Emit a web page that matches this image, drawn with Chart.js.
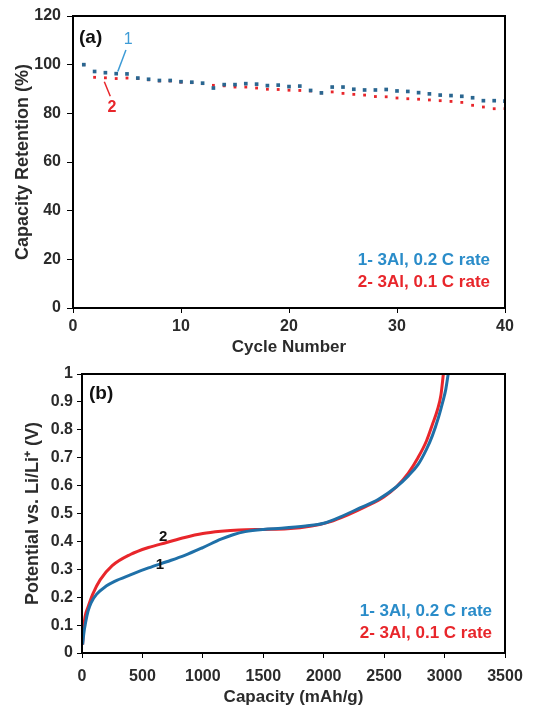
<!DOCTYPE html>
<html>
<head>
<meta charset="utf-8">
<script src="https://cdn.jsdelivr.net/npm/chart.js@4.4.1/dist/chart.umd.min.js"></script>
<style>
  html, body { margin: 0; padding: 0; background: #fff; }
  body { width: 542px; height: 708px; position: relative; overflow: hidden; }
  canvas { position: absolute; left: 0; }
  #cA { top: 0; }
  #cB { top: 355px; }
</style>
</head>
<body>
<canvas id="cA" width="542" height="358"></canvas>
<canvas id="cB" width="542" height="353"></canvas>
<script>
// ---------- Panel (a) data ----------
const cycles = [1,2,3,4,5,6,7,8,9,10,11,12,13,14,15,16,17,18,19,20,21,22,23,24,25,26,27,28,29,30,31,32,33,34,35,36,37,38,39,40];
const retention02C = [100,97.2,96.7,96.3,96.2,94.5,94,93.5,93.5,93,92.8,92.4,90.4,91.8,91.8,92.2,92,91.4,91.6,91,91.2,89.4,88.4,90.8,90.8,89.9,89.6,89.6,89.8,89.2,89,88.5,88,87.5,87.3,87,86.4,85.2,85.2,85];
const retention01C = [100,94.8,94.6,94.3,94.5,94.3,93.8,93.3,93.3,92.8,92.6,92.2,91.5,91.3,90.8,90.8,90.4,89.9,89.8,89.5,89.4,89.2,88.4,88.8,88.2,87.8,87.5,86.9,86.8,86.3,86,85.8,85.5,85.2,84.9,84.5,83.3,82.6,81.9,81.9];
const yTicksA = [0,20,40,60,80,100,120];
const xTicksA = [0,10,20,30,40];

// ---------- Panel (b) data ----------
const capacity02C = [5,15,30,50,75,120,200,270,400,550,700,850,1000,1150,1250,1350,1500,1650,1850,2000,2150,2300,2450,2600,2700,2780,2850,2900,2950,2985,3010,3030];
const potential02C = [0.03,0.07,0.11,0.15,0.18,0.21,0.24,0.257,0.28,0.305,0.327,0.35,0.378,0.408,0.424,0.435,0.443,0.447,0.455,0.465,0.49,0.52,0.55,0.595,0.635,0.675,0.73,0.78,0.845,0.9,0.945,1.0];
const capacity01C = [5,12,25,50,90,150,250,400,550,700,850,1000,1150,1300,1500,1700,1900,2050,2200,2350,2500,2600,2700,2780,2850,2900,2940,2970,2990];
const potential01C = [0.03,0.08,0.13,0.165,0.212,0.262,0.313,0.353,0.378,0.396,0.414,0.428,0.436,0.441,0.443,0.445,0.455,0.47,0.495,0.525,0.56,0.595,0.645,0.7,0.76,0.82,0.87,0.925,1.0];
const yTicksB = [0,0.1,0.2,0.3,0.4,0.5,0.6,0.7,0.8,0.9,1];
const xTicksB = [0,500,1000,1500,2000,2500,3000,3500];

const legendText = ['1- 3Al, 0.2 C rate', '2- 3Al, 0.1 C rate'];

const FONT = "'Liberation Sans', Arial, Helvetica, sans-serif";
const BLUE = '#1f70a8';
const BLUE_PT = '#2a6690';
const BLUE_TXT = '#2a8cc9';
const RED = '#e8262b';
const TXT = '#2b2b2b';

function fixedTicks(arr) {
  return function(scale) { scale.ticks = arr.map(v => ({ value: v })); };
}
function fmt(v) { return String(Math.round(v * 1000) / 1000); }

const framePlugin = {
  id: 'frame',
  afterDraw(chart) {
    const { ctx, chartArea: a } = chart;
    ctx.save();
    ctx.strokeStyle = '#000';
    ctx.lineWidth = 2;
    ctx.strokeRect(a.left, a.top, a.right - a.left, a.bottom - a.top);
    ctx.restore();
  }
};

function makeAnnot(cfg) {
  return {
    id: 'annot',
    afterDraw(chart) {
      const { ctx, chartArea: a, scales } = chart;
      const xs = scales.x, ys = scales.y;
      ctx.save();
      ctx.font = 'bold 19px ' + FONT;
      ctx.fillStyle = '#111';
      ctx.textAlign = 'left';
      ctx.textBaseline = 'middle';
      ctx.fillText(cfg.letter, a.left + cfg.letterDx, a.top + cfg.letterDy);
      cfg.labels.forEach(l => {
        if (l.line) {
          ctx.strokeStyle = l.color;
          ctx.lineWidth = 1.5;
          ctx.beginPath();
          ctx.moveTo(xs.getPixelForValue(l.line[0]), ys.getPixelForValue(l.line[1]));
          ctx.lineTo(xs.getPixelForValue(l.line[2]), ys.getPixelForValue(l.line[3]));
          ctx.stroke();
        }
        ctx.font = l.font;
        ctx.fillStyle = l.color;
        ctx.textAlign = 'center';
        ctx.fillText(l.text, xs.getPixelForValue(l.x), ys.getPixelForValue(l.y));
      });
      ctx.font = 'bold 17px ' + FONT;
      ctx.textAlign = 'right';
      ctx.fillStyle = BLUE_TXT;
      ctx.fillText(legendText[0], a.right - cfg.legDx, a.bottom - cfg.legDy1);
      ctx.fillStyle = RED;
      ctx.fillText(legendText[1], a.right - cfg.legDx, a.bottom - cfg.legDy2);
      ctx.restore();
    }
  };
}

function axisCommon(ticksArr, min, max, tickLen, pad, titleText, titleSize, titlePad, yWidth, xHeight) {
  return {
    type: 'linear', min: min, max: max,
    afterBuildTicks: fixedTicks(ticksArr),
    afterFit: function(s) { if (yWidth) s.width = yWidth; if (xHeight) s.height = xHeight; },
    grid: { display: true, drawOnChartArea: false, drawTicks: true, tickLength: tickLen, color: '#000', lineWidth: 1 },
    border: { display: true, color: '#000', width: 2 },
    ticks: { color: TXT, font: { family: FONT, size: 16, weight: 'bold' }, padding: pad, callback: v => fmt(v), autoSkip: false, maxRotation: 0 },
    title: { display: true, text: titleText, color: TXT, font: { family: FONT, size: titleSize, weight: 'bold' }, padding: titlePad }
  };
}

// ---------- Chart A ----------
new Chart(document.getElementById('cA'), {
  type: 'scatter',
  data: {
    datasets: [
      { label: legendText[0], data: cycles.map((c, i) => ({ x: c, y: retention02C[i] })),
        pointStyle: 'rect', pointRadius: 2.6, backgroundColor: BLUE_PT, borderColor: BLUE_PT, borderWidth: 0, order: 0 },
      { label: legendText[1], data: cycles.map((c, i) => ({ x: c, y: retention01C[i] })),
        pointStyle: 'rect', pointRadius: 2.0, backgroundColor: RED, borderColor: RED, borderWidth: 0, order: 1 }
    ]
  },
  options: {
    responsive: false, animation: false, devicePixelRatio: 1,
    layout: { padding: { left: 0, right: 37, top: 16, bottom: 0 } },
    plugins: { legend: { display: false }, tooltip: { enabled: false } },
    scales: {
      x: axisCommon(xTicksA, 0, 40, 5, 4, 'Cycle Number', 17, { top: 0, bottom: 0 }, 0, 50),
      y: axisCommon(yTicksA, 0, 120, 6, 6, 'Capacity Retention (%)', 18, { top: 12, bottom: 0 }, 73, 0)
    }
  },
  plugins: [framePlugin, makeAnnot({
    letter: '(a)', letterDx: 6, letterDy: 22,
    labels: [
      { text: '1', x: 5.1, y: 110.5, color: '#3d9bd6', font: '16px ' + FONT, line: [4.9, 106, 4.15, 97.2] },
      { text: '2', x: 3.6, y: 82.5, color: RED, font: 'bold 16px ' + FONT, line: [2.9, 93, 3.45, 87] }
    ],
    legDx: 15, legDy1: 48, legDy2: 26
  })]
});

// ---------- Chart B ----------
new Chart(document.getElementById('cB'), {
  type: 'scatter',
  data: {
    datasets: [
      { label: legendText[1], data: capacity01C.map((c, i) => ({ x: c, y: potential01C[i] })),
        showLine: true, borderColor: RED, borderWidth: 3, pointRadius: 0, cubicInterpolationMode: 'monotone', order: 1 },
      { label: legendText[0], data: capacity02C.map((c, i) => ({ x: c, y: potential02C[i] })),
        showLine: true, borderColor: BLUE, borderWidth: 3, pointRadius: 0, cubicInterpolationMode: 'monotone', order: 0 }
    ]
  },
  options: {
    responsive: false, animation: false, devicePixelRatio: 1,
    layout: { padding: { left: 0, right: 37, top: 19, bottom: 0 } },
    plugins: { legend: { display: false }, tooltip: { enabled: false } },
    scales: {
      x: axisCommon(xTicksB, 0, 3500, 5, 9, 'Capacity (mAh/g)', 17, { top: 0, bottom: 0 }, 0, 55),
      y: axisCommon(yTicksB, 0, 1, 5, 4, 'Potential vs. Li/Li\u207A (V)', 18, { top: 22, bottom: 0 }, 82, 0)
    }
  },
  plugins: [framePlugin, makeAnnot({
    letter: '(b)', letterDx: 7, letterDy: 20,
    labels: [
      { text: '2', x: 672, y: 0.417, color: '#111', font: 'bold 15px ' + FONT },
      { text: '1', x: 645, y: 0.315, color: '#111', font: 'bold 15px ' + FONT }
    ],
    legDx: 13, legDy1: 42, legDy2: 20
  })]
});
</script>
</body>
</html>
